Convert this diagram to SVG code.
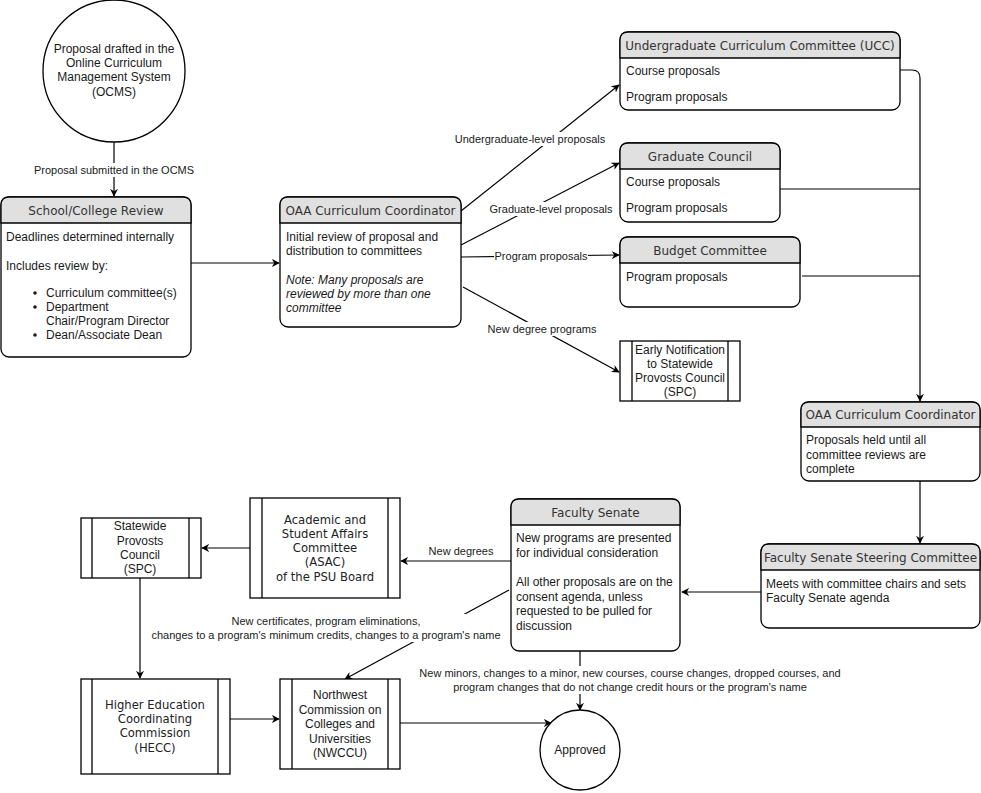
<svg xmlns="http://www.w3.org/2000/svg" width="981" height="793" viewBox="0 0 981 793">
<defs>
<marker id="arr" viewBox="0 0 10 10" refX="9" refY="5" markerWidth="8" markerHeight="8" markerUnits="userSpaceOnUse" orient="auto">
<path d="M0,0 L10,5 L0,10 L3,5 Z" fill="#000"/>
</marker>
<style>
.box{fill:#fff;stroke:#000;stroke-width:1.3}
.hdr{fill:#e0e0e0;stroke:#000;stroke-width:1.3}
.ln{fill:none;stroke:#000;stroke-width:1.3}
.con{fill:none;stroke:#000;stroke-width:1.2}
.t{font-family:"Liberation Sans",Arial,sans-serif;font-size:12px;fill:#1a1a1a}
.h{font-family:"DejaVu Sans",Verdana,sans-serif;font-size:12px;fill:#333}
.d{font-family:"DejaVu Sans",Verdana,sans-serif;font-size:11.6px;fill:#222}
.l{font-family:"Liberation Sans",Arial,sans-serif;font-size:11px;fill:#1a1a1a}
.c{text-anchor:middle}
.i{font-style:italic}
</style>
</defs>
<rect width="981" height="793" fill="#fff"/>

<g id="connectors">
<line class="con" x1="114" y1="142" x2="114" y2="196" marker-end="url(#arr)"/>
<rect x="32" y="163" width="164" height="14" fill="#fff"/>
<text class="l c" x="114" y="174">Proposal submitted in the OCMS</text>

<line class="con" x1="191" y1="263" x2="279" y2="263" marker-end="url(#arr)"/>

<line class="con" x1="461" y1="211" x2="619" y2="85" marker-end="url(#arr)"/>
<rect x="452" y="132" width="156" height="14" fill="#fff"/>
<text class="l c" x="530" y="143">Undergraduate-level proposals</text>

<line class="con" x1="461" y1="245" x2="619" y2="163" marker-end="url(#arr)"/>
<rect x="488" y="202" width="126" height="14" fill="#fff"/>
<text class="l c" x="551" y="213">Graduate-level proposals</text>

<line class="con" x1="461" y1="257" x2="619" y2="255" marker-end="url(#arr)"/>
<rect x="494" y="249" width="94" height="14" fill="#fff"/>
<text class="l c" x="541" y="260">Program proposals</text>

<line class="con" x1="463" y1="287" x2="619" y2="372" marker-end="url(#arr)"/>
<rect x="485" y="322" width="114" height="14" fill="#fff"/>
<text class="l c" x="542" y="333">New degree programs</text>

<path class="con" d="M900,70 L912,70 Q920,70 920,78 L920,401" marker-end="url(#arr)"/>
<line class="con" x1="780" y1="189" x2="920" y2="189"/>
<line class="con" x1="802" y1="276" x2="920" y2="276"/>

<line class="con" x1="920" y1="481" x2="920" y2="543" marker-end="url(#arr)"/>
<line class="con" x1="761" y1="592" x2="682" y2="592" marker-end="url(#arr)"/>

<line class="con" x1="511" y1="561" x2="401" y2="561" marker-end="url(#arr)"/>
<text class="l c" x="461" y="555">New degrees</text>

<line class="con" x1="250" y1="548" x2="202" y2="548" marker-end="url(#arr)"/>
<line class="con" x1="140" y1="578" x2="140" y2="678" marker-end="url(#arr)"/>
<line class="con" x1="230" y1="719" x2="279" y2="719" marker-end="url(#arr)"/>
<line class="con" x1="400" y1="723" x2="551" y2="723" marker-end="url(#arr)"/>

<line class="con" x1="509" y1="590" x2="345" y2="679" marker-end="url(#arr)"/>
<rect x="150" y="614" width="352" height="28" fill="#fff"/>
<text class="l c" x="326" y="625">New certificates, program eliminations,</text>
<text class="l c" x="326" y="639">changes to a program's minimum credits, changes to a program's name</text>

<line class="con" x1="580" y1="651" x2="580" y2="710" marker-end="url(#arr)"/>
<rect x="418" y="666" width="424" height="28" fill="#fff"/>
<text class="l c" x="630" y="677">New minors, changes to a minor, new courses, course changes, dropped courses, and</text>
<text class="l c" x="630" y="691">program changes that do not change credit hours or the program's name</text>
</g>

<g id="ocms">
<circle class="box" cx="114" cy="71" r="71"/>
<text class="t c" x="114" y="53">Proposal drafted in the</text>
<text class="t c" x="114" y="67">Online Curriculum</text>
<text class="t c" x="114" y="81">Management System</text>
<text class="t c" x="114" y="96">(OCMS)</text>
</g>

<g id="school">
<rect class="box" x="1" y="197" width="190" height="160" rx="8"/>
<path class="hdr" d="M1,223 L1,205 Q1,197 9,197 L183,197 Q191,197 191,205 L191,223 Z"/>
<text class="h c" x="96" y="215">School/College Review</text>
<text class="t" x="6" y="241">Deadlines determined internally</text>
<text class="t" x="6" y="270">Includes review by:</text>
<circle cx="35" cy="293" r="1.8" fill="#1a1a1a"/>
<text class="t" x="46" y="297">Curriculum committee(s)</text>
<circle cx="35" cy="307" r="1.8" fill="#1a1a1a"/>
<text class="t" x="46" y="311">Department</text>
<text class="t" x="46" y="325">Chair/Program Director</text>
<circle cx="35" cy="335" r="1.8" fill="#1a1a1a"/>
<text class="t" x="46" y="339">Dean/Associate Dean</text>
</g>

<g id="oaa1">
<rect class="box" x="280" y="197" width="181" height="130" rx="8"/>
<path class="hdr" d="M280,223 L280,205 Q280,197 288,197 L453,197 Q461,197 461,205 L461,223 Z"/>
<text class="h c" x="370.5" y="215">OAA Curriculum Coordinator</text>
<text class="t" x="286" y="241">Initial review of proposal and</text>
<text class="t" x="286" y="255">distribution to committees</text>
<text class="t i" x="286" y="284">Note: Many proposals are</text>
<text class="t i" x="286" y="298">reviewed by more than one</text>
<text class="t i" x="286" y="312">committee</text>
</g>

<g id="ucc">
<rect class="box" x="620" y="32" width="280" height="78" rx="8"/>
<path class="hdr" d="M620,58 L620,40 Q620,32 628,32 L892,32 Q900,32 900,40 L900,58 Z"/>
<text class="h c" x="760" y="50">Undergraduate Curriculum Committee (UCC)</text>
<text class="t" x="626" y="75">Course proposals</text>
<text class="t" x="626" y="101">Program proposals</text>
</g>

<g id="grad">
<rect class="box" x="620" y="143" width="160" height="79" rx="8"/>
<path class="hdr" d="M620,169 L620,151 Q620,143 628,143 L772,143 Q780,143 780,151 L780,169 Z"/>
<text class="h c" x="700" y="161">Graduate Council</text>
<text class="t" x="626" y="186">Course proposals</text>
<text class="t" x="626" y="212">Program proposals</text>
</g>

<g id="budget">
<rect class="box" x="620" y="237" width="180" height="70" rx="8"/>
<path class="hdr" d="M620,263 L620,245 Q620,237 628,237 L792,237 Q800,237 800,245 L800,263 Z"/>
<text class="h c" x="710" y="255">Budget Committee</text>
<text class="t" x="626" y="281">Program proposals</text>
</g>

<g id="early">
<rect class="box" x="620" y="341" width="120" height="60"/>
<line class="ln" x1="632" y1="341" x2="632" y2="401"/>
<line class="ln" x1="728" y1="341" x2="728" y2="401"/>
<text class="t c" x="680" y="354">Early Notification</text>
<text class="t c" x="680" y="368">to Statewide</text>
<text class="t c" x="680" y="382">Provosts Council</text>
<text class="t c" x="680" y="396">(SPC)</text>
</g>

<g id="oaa2">
<rect class="box" x="801" y="402" width="179" height="79" rx="8"/>
<path class="hdr" d="M801,427 L801,410 Q801,402 809,402 L972,402 Q980,402 980,410 L980,427 Z"/>
<text class="h c" x="890.5" y="419">OAA Curriculum Coordinator</text>
<text class="t" x="806" y="444">Proposals held until all</text>
<text class="t" x="806" y="459">committee reviews are</text>
<text class="t" x="806" y="473">complete</text>
</g>

<g id="fssc">
<rect class="box" x="761" y="544" width="219" height="84" rx="8"/>
<path class="hdr" d="M761,570 L761,552 Q761,544 769,544 L972,544 Q980,544 980,552 L980,570 Z"/>
<text class="h c" x="870.5" y="562">Faculty Senate Steering Committee</text>
<text class="t" x="766" y="588">Meets with committee chairs and sets</text>
<text class="t" x="766" y="602">Faculty Senate agenda</text>
</g>

<g id="senate">
<rect class="box" x="511" y="499" width="169" height="152" rx="8"/>
<path class="hdr" d="M511,525 L511,507 Q511,499 519,499 L672,499 Q680,499 680,507 L680,525 Z"/>
<text class="h c" x="595.5" y="517">Faculty Senate</text>
<text class="t" x="516" y="542">New programs are presented</text>
<text class="t" x="516" y="557">for individual consideration</text>
<text class="t" x="516" y="586">All other proposals are on the</text>
<text class="t" x="516" y="601">consent agenda, unless</text>
<text class="t" x="516" y="615">requested to be pulled for</text>
<text class="t" x="516" y="630">discussion</text>
</g>

<g id="asac">
<rect class="box" x="250" y="498" width="150" height="100"/>
<line class="ln" x1="262" y1="498" x2="262" y2="598"/>
<line class="ln" x1="388" y1="498" x2="388" y2="598"/>
<text class="d c" x="325" y="524">Academic and</text>
<text class="d c" x="325" y="538">Student Affairs</text>
<text class="d c" x="325" y="552">Committee</text>
<text class="d c" x="325" y="566">(ASAC)</text>
<text class="d c" x="325" y="581">of the PSU Board</text>
</g>

<g id="spc">
<rect class="box" x="81" y="518" width="120" height="60"/>
<line class="ln" x1="92" y1="518" x2="92" y2="578"/>
<line class="ln" x1="189" y1="518" x2="189" y2="578"/>
<text class="t c" x="140" y="530">Statewide</text>
<text class="t c" x="140" y="545">Provosts</text>
<text class="t c" x="140" y="559">Council</text>
<text class="t c" x="140" y="573">(SPC)</text>
</g>

<g id="hecc">
<rect class="box" x="81" y="679" width="149" height="95"/>
<line class="ln" x1="92" y1="679" x2="92" y2="774"/>
<line class="ln" x1="218" y1="679" x2="218" y2="774"/>
<text class="d c" x="155" y="709">Higher Education</text>
<text class="d c" x="155" y="723">Coordinating</text>
<text class="d c" x="155" y="737">Commission</text>
<text class="d c" x="155" y="752">(HECC)</text>
</g>

<g id="nwccu">
<rect class="box" x="280" y="679" width="120" height="90"/>
<line class="ln" x1="292" y1="679" x2="292" y2="769"/>
<line class="ln" x1="388" y1="679" x2="388" y2="769"/>
<text class="t c" x="340" y="699">Northwest</text>
<text class="t c" x="340" y="714">Commission on</text>
<text class="t c" x="340" y="728">Colleges and</text>
<text class="t c" x="340" y="743">Universities</text>
<text class="t c" x="340" y="757">(NWCCU)</text>
</g>

<g id="approved">
<circle class="box" cx="580" cy="750" r="40"/>
<text class="t c" x="580" y="754">Approved</text>
</g>
</svg>
